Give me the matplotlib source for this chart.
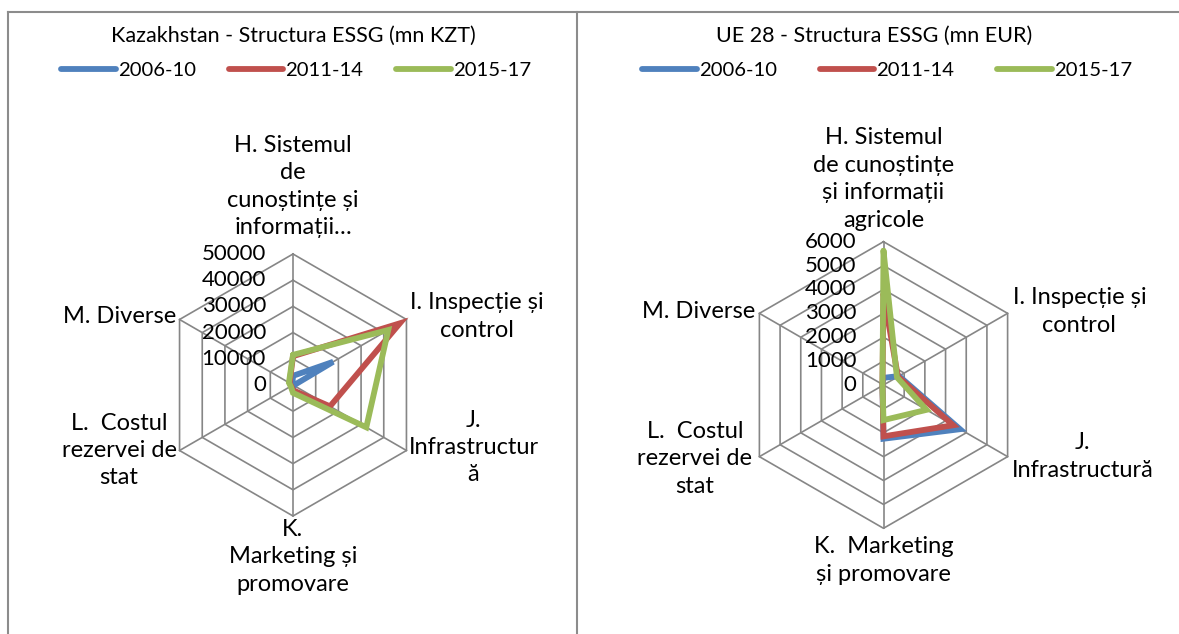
import numpy as np
import matplotlib
matplotlib.use("Agg")
import matplotlib.pyplot as plt
from matplotlib.lines import Line2D

plt.rcParams['font.family'] = ['Lato', 'DejaVu Sans']

# axis categories (clockwise from the top)
cat_kz = ['H. Sistemul\nde\ncunoștințe și\ninformații…', 'I. Inspecție și\ncontrol',
          'J.\nInfrastructur\nă', 'K.\nMarketing și\npromovare',
          'L.  Costul\nrezervei de\nstat', 'M. Diverse']
cat_ue = ['H. Sistemul\nde cunoștințe\nși informații\nagricole', 'I. Inspecție și\ncontrol',
          'J.\nInfrastructură', 'K.  Marketing\nși promovare',
          'L.  Costul\nrezervei de\nstat', 'M. Diverse']

periods = ['2006-10', '2011-14', '2015-17']
colors = ['#4F81BD', '#C0504D', '#9BBB59']

# Kazakhstan, mn KZT
kz_2006_10 = [3500, 17700, 300, 1800, 300, 300]
kz_2011_14 = [11000, 47100, 16300, 2000, 800, 1500]
kz_2015_17 = [11500, 42000, 32300, 3000, 1000, 1800]
kz_ticks = [0, 10000, 20000, 30000, 40000, 50000]

# UE 28, mn EUR
ue_2006_10 = [300, 750, 3700, 2250, 50, 50]
ue_2011_14 = [3800, 700, 3370, 2150, 50, 50]
ue_2015_17 = [5620, 650, 2080, 1470, 50, 50]
ue_ticks = [0, 1000, 2000, 3000, 4000, 5000, 6000]

W, H = 1179, 634
fig = plt.figure(figsize=(W / 100, H / 100), dpi=100)
fig.patch.set_facecolor('white')

GRID = '#868686'
FS_TICK = 16
FS_LAB = 17


def radar(cx, cy, rad, cats, series, ticks, title, tcx, lcx, colspace, label_offsets):
    ax = fig.add_axes([(cx - rad) / W, (H - cy - rad) / H, 2 * rad / W, 2 * rad / H],
                      projection='polar')
    ax.set_theta_zero_location('N')
    ax.set_theta_direction(-1)
    ax.set_ylim(0, ticks[-1])
    ax.grid(False)
    ax.set_xticks([])
    ax.set_yticks([])
    ax.spines['polar'].set_visible(False)
    ax.patch.set_visible(False)

    n = len(cats)
    theta = np.linspace(0, 2 * np.pi, n, endpoint=False)
    closed = np.append(theta, theta[0])

    # hexagonal web
    for t in ticks[1:]:
        ax.plot(closed, [t] * (n + 1), color=GRID, lw=1.2, zorder=1, clip_on=False)
    for th in theta:
        ax.plot([th, th], [0, ticks[-1]], color=GRID, lw=1.2, zorder=1, clip_on=False)

    handles = []
    for vals, c, p in zip(series, colors, periods):
        v = list(vals) + [vals[0]]
        h, = ax.plot(closed, v, color=c, lw=4.2, solid_joinstyle='miter',
                     solid_capstyle='round', zorder=3, clip_on=False, label=p)
        handles.append(h)

    # radial value labels along the top axis
    for t in ticks:
        ax.annotate(str(t), xy=(0, t), xytext=(-27, 0), textcoords='offset pixels',
                    ha='right', va='center', fontsize=FS_TICK, color='black',
                    annotation_clip=False)

    # category labels
    for th, lab, (dx, dy, ha, va) in zip(theta, cats, label_offsets):
        ax.annotate(lab, xy=(th, ticks[-1]), xytext=(dx, dy), textcoords='offset pixels',
                    ha=ha, va=va, multialignment='center', fontsize=FS_LAB,
                    linespacing=1.38, annotation_clip=False)

    fig.text(tcx / W, 1 - 36 / H, title, ha='center', va='center', fontsize=15.5)
    fig.legend(handles=handles, loc='center', bbox_to_anchor=(lcx / W, 1 - 70 / H),
               ncol=3, frameon=False, fontsize=14.6, handlelength=2.7,
               handletextpad=0.1, columnspacing=colspace)
    return ax


radar(293, 385, 131, cat_kz, [kz_2006_10, kz_2011_14, kz_2015_17], kz_ticks,
      'Kazakhstan - Structura ESSG (mn KZT)', 293, 296, 1.6,
      [(0, 16, 'center', 'bottom'), (4, 3, 'left', 'center'),
       (2, 3, 'left', 'center'), (0, -3, 'center', 'top'),
       (-3, 0, 'right', 'center'), (-3, 3, 'right', 'center')])

radar(883.5, 385, 143.3, cat_ue, [ue_2006_10, ue_2011_14, ue_2015_17], ue_ticks,
      'UE 28 - Structura ESSG (mn EUR)', 874, 887, 2.1,
      [(0, 11, 'center', 'bottom'), (5, 2, 'left', 'center'),
       (4, 0, 'left', 'center'), (0, -8, 'center', 'top'),
       (-7, -2, 'right', 'center'), (-4, 2, 'right', 'center')])

# panel borders
border = dict(color='#8c8c8c', lw=1.5, transform=fig.transFigure)
fig.add_artist(Line2D([8 / W, 1], [1 - 12 / H, 1 - 12 / H], **border))
fig.add_artist(Line2D([8 / W, 8 / W], [0, 1 - 12 / H], **border))
fig.add_artist(Line2D([577 / W, 577 / W], [0, 1 - 12 / H], **border))

fig.savefig('out.png', dpi=100, facecolor='white')
